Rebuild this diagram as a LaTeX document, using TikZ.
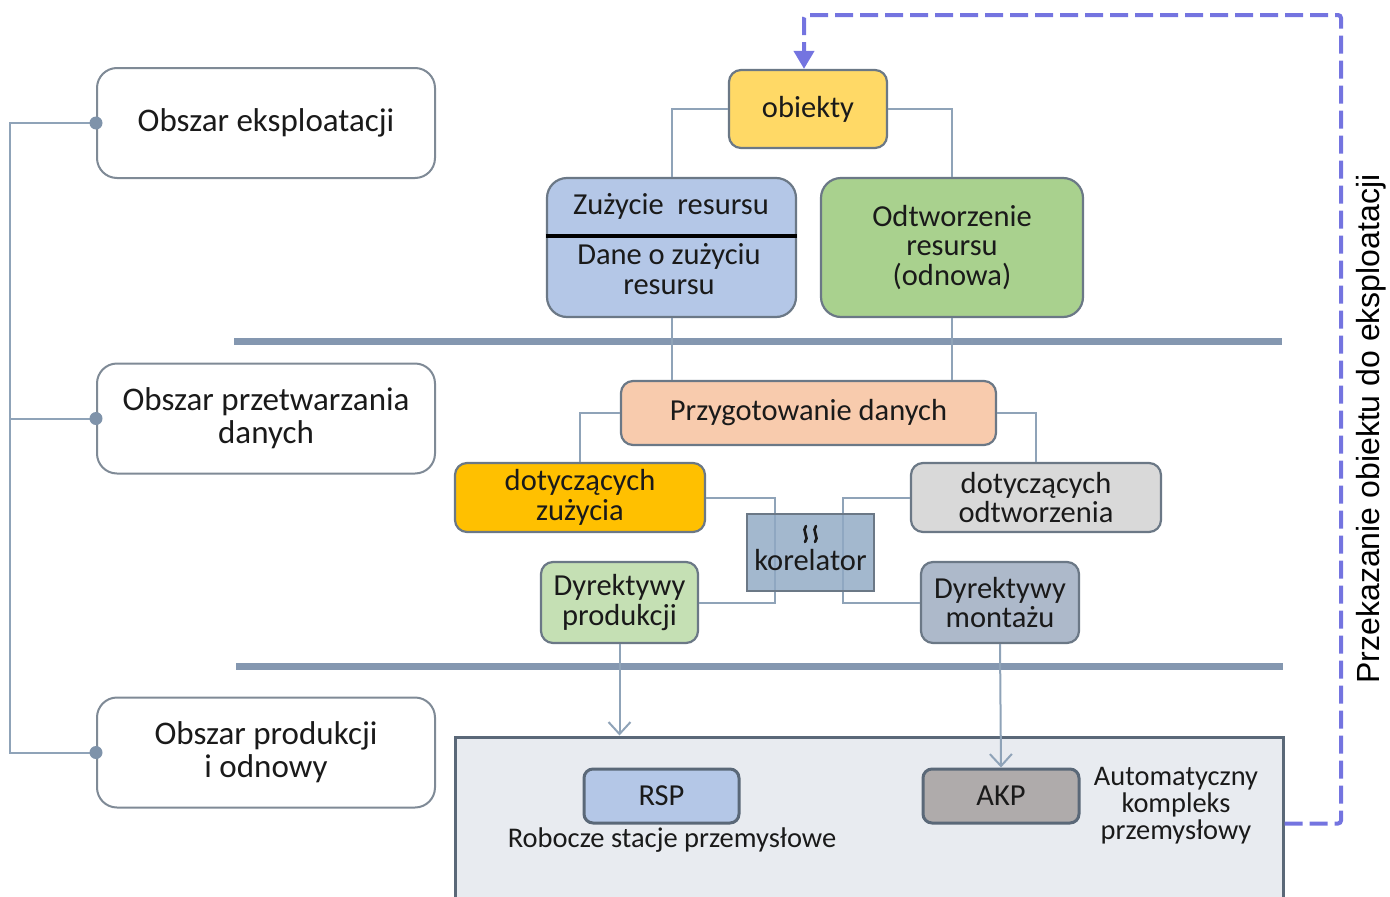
\documentclass[tikz,border=0pt]{standalone}
\usepackage{fontspec}
\setmainfont{Carlito}
\newfontfamily\arialf{Liberation Sans}
\usetikzlibrary{arrows.meta}
\definecolor{areaborder}{HTML}{7F8A96}
\definecolor{boxborder}{HTML}{6B7886}
\definecolor{connc}{HTML}{8FA3B8}
\definecolor{barc}{HTML}{8497B0}
\definecolor{dotc}{HTML}{7F93AA}
\definecolor{yel}{HTML}{FFD966}
\definecolor{zuzc}{HTML}{B4C7E7}
\definecolor{odtc}{HTML}{A9D18E}
\definecolor{przc}{HTML}{F8CBAD}
\definecolor{orng}{HTML}{FFC000}
\definecolor{grayc}{HTML}{D9D9D9}
\definecolor{korc}{HTML}{8FA8C3}
\definecolor{dpc}{HTML}{C5E0B4}
\definecolor{dmc}{HTML}{ADB9CA}
\definecolor{bbc}{HTML}{E8EBF0}
\definecolor{bbborder}{HTML}{5A6878}
\definecolor{akpc}{HTML}{AFABAB}
\definecolor{dashc}{HTML}{7474E0}
\definecolor{txtc}{HTML}{1A1A1A}
\begin{document}
\begin{tikzpicture}[x=1pt,y=-1pt,
  txt/.style={text=txtc, font=\fontsize{30.5}{30}\selectfont, align=center, inner sep=0pt},
  area/.style={draw=areaborder, line width=2pt, rounded corners=20pt, fill=white,
    minimum width=338pt, minimum height=110pt, align=center, text=txtc,
    font=\fontsize{33}{33}\selectfont, inner sep=0pt},
  boxs/.style={draw=boxborder, line width=2.2pt, rounded corners=12pt,
    align=center, text=txtc, font=\fontsize{30.5}{29.5}\selectfont, inner sep=0pt},
  conn/.style={draw=connc, line width=2pt},
  barline/.style={draw=barc, line width=7pt},
  dotst/.style={fill=dotc},
  wave/.style={draw=txtc, line width=2.6pt, line cap=round},
  inbox/.style={draw=bbborder, line width=3pt, rounded corners=9pt, align=center,
    text=txtc, font=\fontsize{30.5}{29.5}\selectfont, inner sep=0pt,
    minimum height=54pt},
]
\useasboundingbox (0,0) rectangle (1390,897);

% left area boxes
\node[area] (ea) at (266,123) {Obszar eksploatacji};
\node[area] (pd) at (266,418.5) {Obszar przetwarzania\\danych};
\node[area] (pp) at (266,752.5) {Obszar produkcji\\i odnowy};
\coordinate (lb) at (10,0);
\draw[conn] (ea.west) -- (ea.west -| lb) -- (pp.west -| lb) -- (pp.west);
\draw[conn] (pd.west) -- (pd.west -| lb);
\fill[dotst] (ea.west) circle (6.5);
\fill[dotst] (pd.west) circle (6.5);
\fill[dotst] (pp.west) circle (6.5);

% bars
\draw[barline] (234,341) -- (1282,341);
\draw[barline] (236,666) -- (1283,666);

% top row
\node[boxs, fill=yel, minimum width=158pt, minimum height=78pt] (ob) at (808,109) {obiekty};
\node[boxs, fill=zuzc, minimum width=249pt, minimum height=139pt, rounded corners=20pt] (zu) at (671.5,247.5) {};
\node[txt] (zut) at (671,206) {Zużycie\ \ resursu};
\node[txt, font=\fontsize{30.5}{29.5}\selectfont] (zub) at (669,269) {Dane o zużyciu\\resursu};
\draw[line width=4.5pt, black] ([yshift=11.5pt]zu.west) -- ([yshift=11.5pt]zu.east);
\node[boxs, fill=odtc, minimum width=262pt, minimum height=139pt, rounded corners=20pt] (od) at (952,247.5) {Odtworzenie\\resursu\\(odnowa)};
\draw[conn] (ob.west) -| (zu.north);
\draw[conn] (ob.east) -| (od.north);

% middle
\node[boxs, fill=przc, minimum width=375pt, minimum height=64pt] (prz) at (808.5,413) {Przygotowanie danych};
\draw[conn] (zu.south) -- (zu.south |- prz.north);
\draw[conn] (od.south) -- (od.south |- prz.north);
\node[boxs, fill=orng, minimum width=250pt, minimum height=69pt] (dz) at (580,497.5) {dotyczących\\zużycia};
\node[boxs, fill=grayc, minimum width=250pt, minimum height=69pt] (do) at (1036,497.5) {dotyczących\\odtworzenia};
\draw[conn] (prz.west) -| (dz.north);
\draw[conn] (prz.east) -| (do.north);
\node[boxs, fill=dpc, minimum width=157pt, minimum height=81pt] (dp) at (619.5,602.5) {Dyrektywy\\produkcji};
\node[boxs, fill=dmc, minimum width=158pt, minimum height=81pt] (dm) at (1000,602.5) {Dyrektywy\\montażu};
\coordinate (k1) at (775,0);
\coordinate (k2) at (843,0);
\draw[conn] (dz.east) -- (dz.east -| k1) -- (dp.east -| k1) -- (dp.east);
\draw[conn] (do.west) -- (do.west -| k2) -- (dm.west -| k2) -- (dm.west);
\node[draw=boxborder, line width=1.8pt, fill=korc, fill opacity=0.82, text opacity=1,
  minimum width=127pt, minimum height=77pt, inner sep=0pt] (kor) at (810.5,552.5) {};
\draw[wave] (806,526) .. controls (801,530) and (810,538) .. (805,542);
\draw[wave] (816,526) .. controls (811,530) and (820,538) .. (815,542);
\node[txt, anchor=base] (kort) at (810.5,570) {korelator};

% bottom box
\node[draw=bbborder, line width=3pt, fill=bbc, minimum width=828pt, minimum height=173pt, inner sep=0pt] (bb) at (869,823.5) {};
\node[inbox, fill=zuzc, minimum width=155pt] (rsp) at (661.5,796) {RSP};
\node[inbox, fill=akpc, minimum width=156pt] (akp) at (1001,796) {AKP};
\node[txt, anchor=base, font=\fontsize{28.5}{28.5}\selectfont] (rspt) at (672,847) {Robocze stacje przemysłowe};
\node[txt, font=\fontsize{28.4}{27}\selectfont] (akpt) at (1176,806) {Automatyczny\\kompleks\\przemysłowy};
\draw[conn, -{Straight Barb[length=12pt,width=22pt,line width=2pt]}] (dp.south) -- (dp.south |- bb.north);
\draw[conn, -{Straight Barb[length=12pt,width=22pt,line width=2pt]}] (dm.south) -- (akp.north);

% dashed return arrow
\coordinate (d1) at (1341,15);
\draw[dashc, line width=4pt, dash pattern=on 18pt off 7pt, rounded corners=3pt,
  -{Triangle[length=18pt,width=20pt]}]
  (bb.east) -| (d1) -| ([xshift=-4pt]ob.north);
\node[rotate=90, text=black, inner sep=0pt, font=\arialf\fontsize{32}{32}\selectfont] (lab) at (1371,429) {Przekazanie obiektu do eksploatacji};
\end{tikzpicture}
\end{document}
